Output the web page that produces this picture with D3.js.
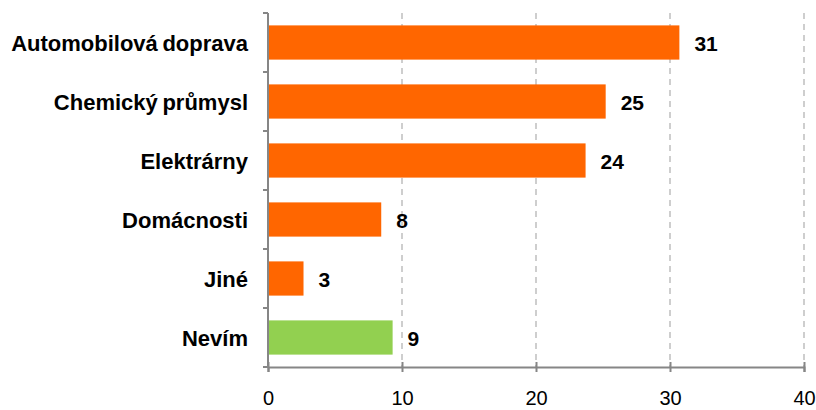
<!DOCTYPE html>
<html>
<head>
  <meta charset="utf-8">
  <style>
    body { margin: 0; background: #fff; font-family: "Liberation Sans", Arial, sans-serif; }
    .cat-label { font-weight: bold; font-size: 22px; word-spacing: -1.5px; fill: #000; }
    .value-label { font-weight: bold; font-size: 21px; fill: #000; }
    .x-axis text { font-size: 20px; fill: #000; }
    .grid line { stroke: #bfbfbf; stroke-width: 1.5px; stroke-dasharray: 6,5; }
  </style>
  <script src="https://d3js.org/d3.v7.min.js"></script>
</head>
<body>
<div class="chart"></div>
<script>
const categories = ['Automobilová doprava', 'Chemický průmysl', 'Elektrárny', 'Domácnosti', 'Jiné', 'Nevím'];
const values = [30.7, 25.2, 23.7, 8.45, 2.65, 9.3];
const barColours = ['#ff6600', '#ff6600', '#ff6600', '#ff6600', '#ff6600', '#92d050'];
const xTicks = [0, 10, 20, 30, 40];

const width = 816;
const height = 410;
const margin = {top: 13, right: 12, bottom: 43, left: 268};

const svg = d3.select('.chart')
  .append('svg')
  .attr('width', width)
  .attr('height', height);

const x = d3.scaleLinear()
  .domain([0, 40])
  .range([margin.left, width - margin.right]);

const y = d3.scaleBand()
  .domain(categories)
  .range([margin.top, height - margin.bottom])
  .paddingInner(0.42)
  .paddingOuter(0.21);

// dashed vertical grid
svg.append('g')
  .attr('class', 'grid')
  .selectAll('line')
  .data(xTicks.slice(1))
  .enter()
  .append('line')
  .attr('x1', d => x(d))
  .attr('x2', d => x(d))
  .attr('y1', margin.top)
  .attr('y2', height - margin.bottom);

// bars
svg.append('g')
  .selectAll('rect')
  .data(categories)
  .enter()
  .append('rect')
  .attr('x', x(0))
  .attr('y', d => y(d))
  .attr('height', y.bandwidth())
  .attr('width', (d, i) => x(values[i]) - x(0))
  .attr('fill', (d, i) => barColours[i]);

// value labels
svg.append('g')
  .selectAll('text')
  .data(categories)
  .enter()
  .append('text')
  .attr('class', 'value-label')
  .attr('x', (d, i) => x(values[i]) + 15)
  .attr('y', d => y(d) + y.bandwidth() / 2 + 1)
  .attr('dy', '0.35em')
  .text((d, i) => d3.format('.0f')(values[i]));

// x axis
const xAxis = svg.append('g')
  .attr('class', 'x-axis')
  .attr('transform', `translate(0, ${height - margin.bottom})`)
  .call(d3.axisBottom(x).tickValues(xTicks).tickSize(5).tickPadding(19));
xAxis.select('.domain').attr('stroke', '#868686').attr('stroke-width', 2);
xAxis.selectAll('.tick line').attr('stroke', '#868686').attr('stroke-width', 2).attr('y1', -5);
xAxis.selectAll('text').style('font-family', '"Liberation Sans", Arial, sans-serif');

// y axis (ticks between categories)
const yEdges = d3.range(categories.length + 1)
  .map(i => margin.top + i * (height - margin.bottom - margin.top) / categories.length);
const yAxis = svg.append('g');
yAxis.append('line')
  .attr('x1', x(0)).attr('x2', x(0))
  .attr('y1', margin.top).attr('y2', height - margin.bottom)
  .attr('stroke', '#868686').attr('stroke-width', 2);
yAxis.selectAll('line.ytick')
  .data(yEdges)
  .enter()
  .append('line')
  .attr('class', 'ytick')
  .attr('x1', x(0) - 5).attr('x2', x(0))
  .attr('y1', d => d).attr('y2', d => d)
  .attr('stroke', '#868686').attr('stroke-width', 2);

// category labels
svg.append('g')
  .selectAll('text')
  .data(categories)
  .enter()
  .append('text')
  .attr('class', 'cat-label')
  .attr('x', 248)
  .attr('y', d => y(d) + y.bandwidth() / 2 + 1)
  .attr('dy', '0.35em')
  .attr('text-anchor', 'end')
  .text(d => d);
</script>
</body>
</html>
